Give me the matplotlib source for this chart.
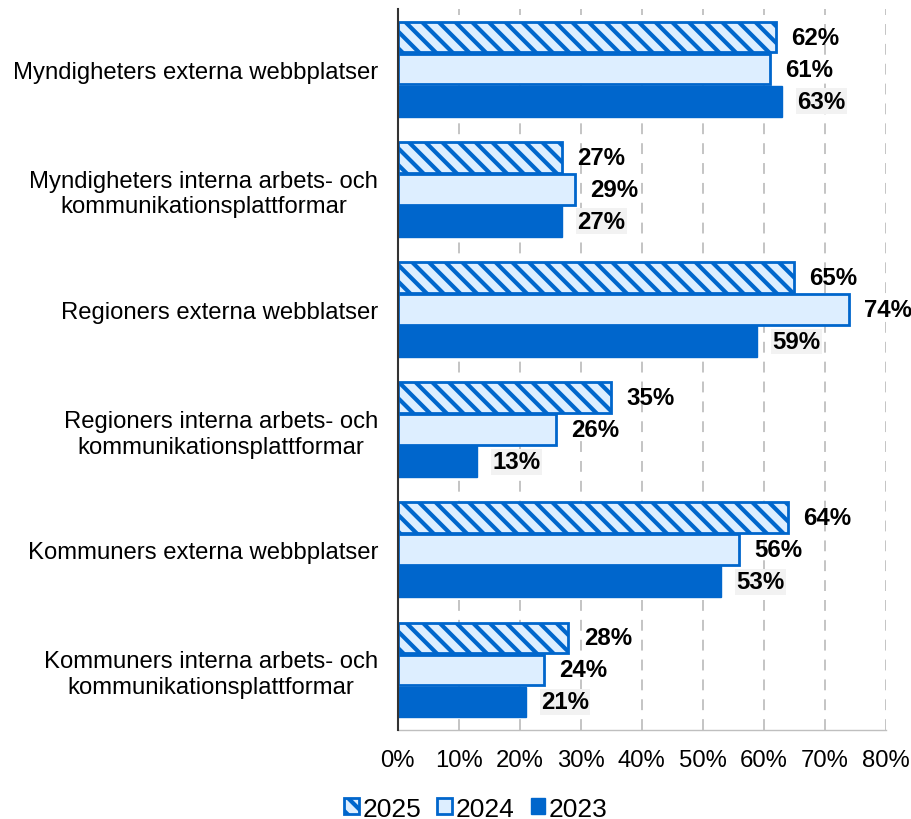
import matplotlib.pyplot as plt
import numpy as np
from matplotlib.ticker import FuncFormatter

categories = [
    'Myndigheters externa webbplatser',
    'Myndigheters interna arbets- och\nkommunikationsplattformar',
    'Regioners externa webblatser',
    'Regioners interna arbets- och\nkommunikationsplattformar',
    'Kommuners externa webbplatser',
    'Kommuners interna arbets- och\nkommunikationsplattformar',
]
years = ['2025', '2024', '2023']
v2025 = [62, 27, 65, 35, 64, 28]
v2024 = [61, 29, 74, 26, 56, 24]
v2023 = [63, 27, 59, 13, 53, 21]

blue = '#0066CC'
light = '#DDEEFF'

plt.rcParams['font.family'] = ['Liberation Sans', 'DejaVu Sans']
plt.rcParams['hatch.linewidth'] = 3.0
plt.rcParams['hatch.color'] = blue

fig = plt.figure(figsize=(9.12, 8.2), dpi=100)
ax = fig.add_axes([0.436, 0.1085, 0.535, 0.8793])

y = np.arange(len(categories))
h = 0.8 / 3
series = [
    (v2025, -h, dict(facecolor=light, edgecolor=blue, hatch='\\\\', linewidth=2)),
    (v2024, 0, dict(facecolor=light, edgecolor=blue, linewidth=2)),
    (v2023, h, dict(facecolor=blue, edgecolor=blue, linewidth=1)),
]
handles = []
for (vals, off, style), yr in zip(series, years):
    b = ax.barh(y + off, vals, height=h * 0.96, label=yr, zorder=3, **style)
    handles.append(b)
    for yi, v in zip(y + off, vals):
        kw = {}
        if yr == '2023':
            kw['bbox'] = dict(facecolor='#F2F2F2', edgecolor='none', pad=1)
        ax.text(v + 2.5, yi, f'{v}%', va='center', ha='left', fontsize=17.3,
                fontweight='bold', zorder=4, **kw)

ax.set_xlim(0, 80)
ax.set_xticks(range(0, 81, 10))
ax.xaxis.set_major_formatter(FuncFormatter(lambda x, p: f'{x:.0f}%'))
ax.set_ylim(5.5, -0.5)
ax.set_yticks(y)
ax.set_yticklabels(categories, fontsize=17.2)
ax.tick_params(axis='x', labelsize=17.2, length=0, pad=14)
ax.tick_params(axis='y', length=0, pad=14)
for lbl in ax.get_yticklabels():
    lbl.set_multialignment('center')

ax.grid(axis='x', color='#BFBFBF', linestyle=(0, (6, 5)), linewidth=1.3, zorder=0)
for s in ['top', 'right']:
    ax.spines[s].set_visible(False)
ax.spines['bottom'].set_color('#BFBFBF')
ax.spines['bottom'].set_linewidth(1)
ax.spines['left'].set_color('#333333')
ax.spines['left'].set_linewidth(1.5)
ax.spines['left'].set_zorder(5)

fig.legend(handles=handles, labels=years, loc='lower center',
           bbox_to_anchor=(0.522, -0.031), ncol=3, frameon=False, fontsize=19,
           handlelength=0.55, handleheight=0.55, handletextpad=0.15, columnspacing=0.6)

fig.savefig('out.png', dpi=100)
